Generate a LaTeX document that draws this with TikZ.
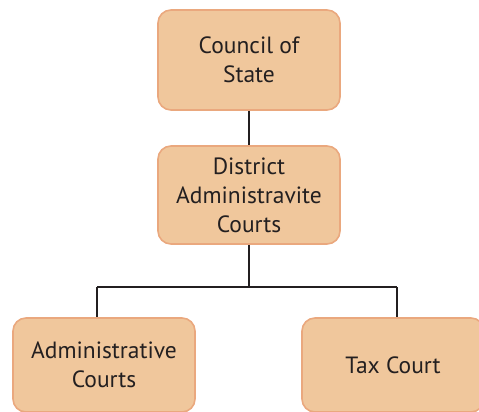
\documentclass[tikz,border=0pt]{standalone}
\usepackage{fontspec}
\setmainfont{PT Sans}
\usepackage{xcolor}
\usetikzlibrary{positioning, calc}

\definecolor{boxfill}{HTML}{F0C79C}
\definecolor{boxline}{HTML}{EAA87E}
\definecolor{linkcol}{HTML}{231F20}

\tikzset{
  court/.style={draw=boxline, fill=boxfill, line width=1.6pt, rounded corners=13pt,
    minimum width=182pt, minimum height=98pt, align=center, text=linkcol,
    font=\fontsize{23.5}{29}\selectfont, inner sep=0pt},
  link/.style={draw=linkcol, line width=1.5pt}
}

\begin{document}
\begin{tikzpicture}[x=1pt, y=-1pt]
      \useasboundingbox (0,0) rectangle (479,412);
      \clip (0,0) rectangle (479,412);

      \node[court, minimum height=100pt] (council) at (249,60) {Council of\\State};
      \node[court] (district) at (249,195) {District\\Administravite\\Courts};
      \node[court, minimum height=94pt] (admin) at (104,365) {Administrative\\Courts};
      \node[court, minimum height=94pt] (tax) at (393,365) {Tax Court};

      \coordinate (forkL) at (97,287);
      \coordinate (forkR) at (397,287);

      \draw[link] (council) -- (district);
      \draw[link] (district.south) -- (district.south |- forkL);
      \draw[link] (forkL) -- (forkR);
      \draw[link] (forkL) -- (forkL |- admin.north);
      \draw[link] (forkR) -- (forkR |- tax.north);

    \end{tikzpicture}
\end{document}
